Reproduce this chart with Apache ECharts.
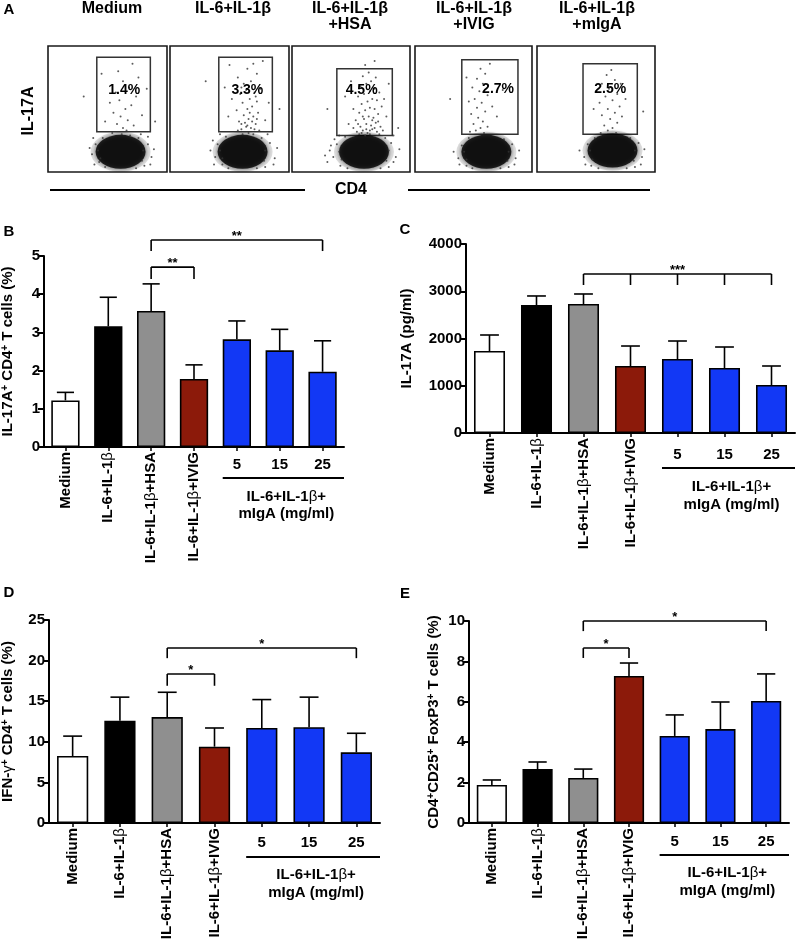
<!DOCTYPE html>
<html><head><meta charset="utf-8">
<script src="https://cdn.jsdelivr.net/npm/echarts/dist/echarts.min.js"></script>
<style>html,body{margin:0;padding:0;background:#fff}#c{width:797px;height:948px}</style>
</head><body><div id="c"></div>
<script>
// ---------------- DATA ----------------
const categories = ['Medium', 'IL-6+IL-1β', 'IL-6+IL-1β+HSA', 'IL-6+IL-1β+IVIG', '5', '15', '25'];
const groupTitle = ['IL-6+IL-1β+', 'mIgA (mg/ml)'];

// Panel B: IL-17A+ CD4+ T cells (%)
const bTicks = [0, 1, 2, 3, 4, 5];
const bMean  = [1.22, 3.16, 3.56, 1.78, 2.82, 2.53, 1.97];
const bUpper = [1.43, 3.92, 4.27, 2.15, 3.30, 3.08, 2.78];
const bBrackets = [
  {from: 2, to: 6, level: 5.42, drop: 5.13, ticks: [2, 6], label: '**'},
  {from: 2, to: 3, level: 4.71, drop: 4.40, ticks: [2, 3], label: '**'}
];

// Panel C: IL-17A (pg/ml)
const cTicks = [0, 1000, 2000, 3000, 4000];
const cMean  = [1735, 2709, 2730, 1418, 1566, 1376, 1016];
const cUpper = [2074, 2900, 2942, 1841, 1947, 1820, 1418];
const cBrackets = [
  {from: 2, to: 6, level: 3365, drop: 3132, ticks: [2, 3, 4, 5, 6], label: '***'}
];

// Panel D: IFN-γ+ CD4+ T cells (%)
const dTicks = [0, 5, 10, 15, 20, 25];
const dMean  = [8.25, 12.6, 13.05, 9.4, 11.7, 11.8, 8.7];
const dUpper = [10.7, 15.5, 16.1, 11.7, 15.2, 15.5, 11.05];
const dBrackets = [
  {from: 2, to: 6, level: 21.55, drop: 20.3, ticks: [2, 6], label: '*'},
  {from: 2, to: 3, level: 18.35, drop: 16.9, ticks: [2, 3], label: '*'}
];

// Panel E: CD4+CD25+ FoxP3+ T cells (%)
const eTicks = [0, 2, 4, 6, 8, 10];
const eMean  = [1.88, 2.67, 2.23, 7.28, 4.31, 4.65, 6.04];
const eUpper = [2.13, 3.02, 2.67, 7.92, 5.35, 5.99, 7.38];
const eBrackets = [
  {from: 2, to: 6, level: 10.0, drop: 9.5, ticks: [2, 6], label: '*'},
  {from: 2, to: 3, level: 8.66, drop: 8.17, ticks: [2, 3], label: '*'}
];

// Panel A: flow cytometry (IL-17A vs CD4), axes 0-100 in each plot
const flowTitles = [['Medium'], ['IL-6+IL-1β'], ['IL-6+IL-1β', '+HSA'], ['IL-6+IL-1β', '+IVIG'], ['IL-6+IL-1β', '+mIgA']];
const flowPct = ['1.4%', '3.3%', '4.5%', '2.7%', '2.5%'];
const flowGates = [[41, 32, 86, 91], [41, 32, 86, 91], [38, 29, 85, 82], [40, 30, 88, 89], [39, 30, 85, 86]];
const flowBlob = [[61, 16], [61, 16], [61, 16], [61, 16], [64, 17]];
const flowDots = [
  [[63,35],[58,38],[67,41],[61,44],[72,37],[55,47],[65,50],[70,53],[60,57],[74,60],[57,63],[68,67],[63,72],[76,75],[59,80],[71,86],[52,55],[79,45],[66,33],[48,40],[83,66],[45,78],[62,30],[69,29],[54,31],[30,60],[90,40],[78,30],
   [40,22],[37,14],[43,8],[84,22],[87,12],[81,5],[46,27],[76,27],[35,19],[89,18],[42,17],[80,17],[44,11],[79,9],[39,6],[86,6],[48,4],[74,3],[38,27],[84,28]],
  [[60,34],[64,36],[68,35],[72,38],[58,40],[66,42],[62,45],[70,44],[74,47],[56,49],[65,50],[69,52],[61,55],[73,56],[67,58],[59,62],[64,65],[71,63],[76,66],[62,70],[68,72],[57,75],[73,78],[65,82],[70,86],[78,88],[52,58],[49,44],[80,41],[83,55],[46,67],[66,31],[70,30],[61,30],[75,33],[63,39],[67,47],[72,60],[60,67],[50,85],[30,72],[92,50],
   [57,33],[71,34],[65,37],[69,40],[60,38],[73,42],
   [40,22],[38,12],[44,6],[84,23],[88,11],[80,4],[47,28],[77,27],[34,17],[90,19],[42,30],[82,30],[42,17],[80,17],[44,11],[79,9],[37,6],[87,6],[49,3],[73,3],[36,25]],
  [[55,32],[60,33],[64,31],[68,34],[72,32],[58,36],[63,38],[67,37],[71,39],[75,36],[54,41],[61,42],[65,44],[69,43],[73,46],[57,47],[62,49],[66,51],[70,50],[76,52],[59,54],[64,56],[68,58],[72,57],[56,60],[61,62],[66,64],[70,66],[74,63],[58,68],[63,70],[67,72],[71,75],[60,76],[65,79],[52,50],[48,38],[45,60],[80,44],[82,70],[78,58],[50,72],[62,85],[70,88],[30,50],[90,35],[66,30],[62,29],[74,30],[57,30],
   [59,31],[66,33],[70,35],[63,34],[56,38],[73,40],[68,41],[60,44],[77,33],[52,35],
   [38,22],[35,12],[41,5],[84,23],[88,12],[82,4],[45,28],[79,27],[32,17],[91,18],[40,29],[86,29],[30,8],[40,16],[82,17],[42,10],[80,9],[36,26],[33,21],[28,13],[47,3],[75,3],[86,8]],
  [[52,33],[56,35],[50,38],[58,40],[54,43],[48,46],[60,48],[53,51],[57,55],[51,58],[62,61],[55,64],[49,67],[58,70],[53,74],[60,78],[56,82],[64,86],[46,56],[66,52],[70,44],[62,36],[47,32],[59,31],[44,75],[75,65],[30,58],
   [40,21],[37,11],[44,5],[83,22],[86,11],[80,4],[46,27],[76,26],[33,16],[89,17],[42,16],[80,16],[44,10],[79,9],[38,6],[85,6],[49,3],[73,3]],
  [[60,33],[64,35],[57,37],[68,39],[62,42],[55,45],[66,47],[60,50],[70,52],[53,55],[64,57],[58,60],[68,62],[61,66],[55,70],[66,73],[59,77],[63,81],[50,64],[72,44],[75,58],[67,31],[54,31],[48,50],[71,70],[90,48],
   [43,22],[40,12],[46,5],[86,23],[89,12],[83,4],[49,27],[79,27],[36,17],[91,18],[45,17],[83,17],[47,10],[82,9],[41,6],[88,6],[52,3],[76,3]]
];

// ---------------- LAYOUT / STYLE ----------------
const FONT = '"Liberation Sans", Arial, Helvetica, sans-serif';
const barColors = ['#ffffff', '#000000', '#8f8f8f', '#8c1a0a', '#1238f5', '#1238f5', '#1238f5'];
const flowBoxes = [[48,46,119,126],[170,46,119,126],[292,46,118,126],[415,46,117,126],[537,46,118,126]];
const flowTitleX = [112, 233, 350, 474, 597];
const flowPctPos = [[64,65],[65,65],[59,65],[71,66],[62,66]];

const supRich = {
  t: {fontSize: 15, fontWeight: 'bold', fontFamily: FONT, color: '#000'},
  s: {fontSize: 10, fontWeight: 'bold', fontFamily: FONT, color: '#000', verticalAlign: 'top', padding: [0, 0, 6, 0]},
  g: {fontSize: 15, fontWeight: 'normal', fontFamily: FONT, color: '#000'}
};

const panels = [
  {letter: 'B', lx: 9, ly: 232, rect: {left: 44, top: 256, width: 300, height: 191}, ticks: bTicks, mean: bMean, upper: bUpper, brackets: bBrackets,
   name: '{t|IL-17A}{s|+}{t| CD4}{s|+}{t| T cells (%)}', nameGap: 28, dy: [18, 31, 50, 67]},
  {letter: 'C', lx: 405, ly: 230, rect: {left: 466, top: 244, width: 329, height: 189}, ticks: cTicks, mean: cMean, upper: cUpper, brackets: cBrackets,
   name: '{t|IL-17A (pg/ml)}', nameGap: 52, dy: [22, 35, 54, 72]},
  {letter: 'D', lx: 9, ly: 593, rect: {left: 49, top: 620, width: 331, height: 203}, ticks: dTicks, mean: dMean, upper: dUpper, brackets: dBrackets,
   name: '{t|IFN-}{g|γ}{s|+}{t| CD4}{s|+}{t| T cells (%)}', nameGap: 33, dy: [20, 34, 52, 70]},
  {letter: 'E', lx: 405, ly: 594, rect: {left: 469, top: 621, width: 320, height: 202}, ticks: eTicks, mean: eMean, upper: eUpper, brackets: eBrackets,
   name: '{t|CD4}{s|+}{t|CD25}{s|+}{t| FoxP3}{s|+}{t| T cells (%)}', nameGap: 27, dy: [19, 32, 50, 68]}
];

// ---------------- BUILD ----------------
const grids = [], xAxes = [], yAxes = [], series = [];
const flowSeriesIdx = [];

flowBoxes.forEach((b, i) => {
  grids.push({left: b[0], top: b[1], width: b[2], height: b[3], show: true, borderColor: '#1a1a1a', borderWidth: 1.6,
              backgroundColor: '#fff', containLabel: false, outerBoundsMode: 'none'});
  xAxes.push({gridIndex: i, type: 'value', min: 0, max: 100, show: false});
  yAxes.push({gridIndex: i, type: 'value', min: 0, max: 100, show: false});
  const blobLayers = [
    {size: [60, 40], color: 'rgba(0,0,0,0.16)', blur: 0, shadow: 'rgba(0,0,0,0)'},
    {size: [50, 34], color: '#000', blur: 4, shadow: 'rgba(0,0,0,0.8)'}
  ];
  blobLayers.forEach(L => series.push({
    type: 'scatter', xAxisIndex: i, yAxisIndex: i, data: [flowBlob[i]], symbol: 'circle', symbolSize: L.size,
    itemStyle: {color: L.color, shadowBlur: L.blur, shadowColor: L.shadow}, silent: true, z: 2
  }));
  const g = flowGates[i];
  flowSeriesIdx.push(series.length);
  series.push({
    type: 'scatter', xAxisIndex: i, yAxisIndex: i, data: flowDots[i], symbolSize: 2, itemStyle: {color: '#333'}, silent: true, z: 3,
    markArea: {silent: true, itemStyle: {color: 'rgba(0,0,0,0)', borderColor: '#333', borderWidth: 1.5},
               data: [[{coord: [g[0], g[1]]}, {coord: [g[2], g[3]]}]]}
  });
});

const barSeriesIdx = [];
panels.forEach((p, k) => {
  const gi = 5 + k;
  grids.push(Object.assign({containLabel: false, outerBoundsMode: 'none'}, p.rect));
  xAxes.push({
    gridIndex: gi, type: 'category', data: categories,
    axisLine: {show: true, onZero: false, lineStyle: {color: '#000', width: 2}},
    axisTick: {show: true, alignWithLabel: true, length: 4, lineStyle: {color: '#000', width: 1.5}},
    axisLabel: {interval: 0, rotate: 90, margin: 5, fontSize: 15, fontWeight: 'bold', color: '#000', fontFamily: FONT,
                formatter: (v, i) => i >= 4 ? '' : v.replace(/β/g, '{g|β}'), rich: {g: supRich.g}},
    splitLine: {show: false}
  });
  yAxes.push({
    gridIndex: gi, type: 'value', min: p.ticks[0], max: p.ticks[p.ticks.length - 1], interval: p.ticks[1] - p.ticks[0],
    axisLine: {show: true, lineStyle: {color: '#000', width: 2}},
    axisTick: {show: true, length: 6, lineStyle: {color: '#000', width: 2}},
    axisLabel: {color: '#000', fontSize: 15, fontWeight: 'bold', fontFamily: FONT, margin: 4, formatter: v => String(v)},
    splitLine: {show: false},
    name: p.name, nameLocation: 'middle', nameGap: p.nameGap, nameRotate: 90,
    nameTextStyle: {fontSize: 15, fontWeight: 'bold', fontFamily: FONT, color: '#000', rich: supRich}
  });
  barSeriesIdx.push(series.length);
  series.push({
    type: 'bar', xAxisIndex: gi, yAxisIndex: gi, barWidth: '66%', silent: true, z: 2,
    data: p.mean.map((v, i) => ({value: v, itemStyle: {color: barColors[i], borderColor: '#000', borderWidth: 1.6}}))
  });
  series.push({
    type: 'custom', xAxisIndex: gi, yAxisIndex: gi, silent: true, z: 3,
    data: p.mean.map((v, i) => [i, v, p.upper[i]]), encode: {x: 0, y: 1},
    renderItem: (params, api) => {
      const i = api.value(0), m = api.value(1), u = api.value(2);
      const pm = api.coord([i, m]), pu = api.coord([i, u]);
      const hw = api.size([1, 0])[0] * 0.2;
      return {type: 'group', children: [
        {type: 'line', shape: {x1: pm[0], y1: pm[1], x2: pu[0], y2: pu[1]}, style: {stroke: '#000', lineWidth: 1.6}},
        {type: 'line', shape: {x1: pu[0] - hw, y1: pu[1], x2: pu[0] + hw, y2: pu[1]}, style: {stroke: '#000', lineWidth: 1.6}}
      ]};
    }
  });
});

const option = {
  backgroundColor: '#fff', animation: false,
  grid: grids, xAxis: xAxes, yAxis: yAxes, series: series
};

const chart = echarts.init(document.getElementById('c'), null, {renderer: 'canvas', width: 797, height: 948});
chart.setOption(option);

// ---------------- ANNOTATIONS ----------------
function txt(x, y, text, size, weight, opts) {
  return Object.assign({type: 'text', x: x, y: y, silent: true, z: 100, style: {
    text: text, fill: '#000', font: (weight || 'bold') + ' ' + size + 'px ' + FONT,
    textAlign: 'center', textVerticalAlign: 'middle', align: 'center', verticalAlign: 'middle'
  }}, opts || {});
}
function seg(x1, y1, x2, y2, w) {
  return {type: 'line', silent: true, z: 100, shape: {x1: x1, y1: y1, x2: x2, y2: y2}, style: {stroke: '#000', lineWidth: w || 1.6}};
}

const gfx = [];
gfx.push(txt(9, 10, 'A', 15));
flowTitles.forEach((lines, i) => {
  lines.forEach((l, j) => gfx.push(txt(flowTitleX[i], 9 + j * 16, l, 16)));
});
flowPct.forEach((t, i) => {
  const q = chart.convertToPixel({seriesIndex: flowSeriesIdx[i]}, flowPctPos[i]);
  gfx.push(txt(q[0], q[1], t, 14));
});
gfx.push(txt(29, 111, 'IL-17A', 16, 'bold', {rotation: Math.PI / 2}));
gfx.push(seg(50, 190, 305, 190, 2));
gfx.push(seg(408, 190, 650, 190, 2));
gfx.push(txt(351, 190, 'CD4', 16));

panels.forEach((p, k) => {
  const si = barSeriesIdx[k];
  const px = (i, v) => chart.convertToPixel({seriesIndex: si}, [i, v]);
  gfx.push(txt(p.lx, p.ly, p.letter, 15));
  const band = px(1, 0)[0] - px(0, 0)[0];
  const y0 = px(0, 0)[1];
  p.brackets.forEach(b => {
    const a = px(b.from, b.level), c = px(b.to, b.level);
    gfx.push(seg(a[0], a[1], c[0], c[1], 1.6));
    b.ticks.forEach(t => {
      const top = px(t, b.level), bot = px(t, b.drop);
      gfx.push(seg(top[0], top[1], bot[0], bot[1], 1.6));
    });
    gfx.push(txt((a[0] + c[0]) / 2, a[1] - 4, b.label, 13));
  });
  [4, 5, 6].forEach(i => gfx.push(txt(px(i, 0)[0], y0 + p.dy[0], categories[i], 15)));
  const l = px(4, 0)[0] - band * 0.33, r = px(6, 0)[0] + band * 0.5;
  gfx.push(seg(l, y0 + p.dy[1], r, y0 + p.dy[1], 2));
  const cx = (l + r) / 2 + 3;
  gfx.push({type: 'text', x: cx, y: y0 + p.dy[2], silent: true, z: 100, style: {
    text: '{t|IL-6+IL-1}{g|β}{t|+}', rich: {t: {font: 'bold 15px ' + FONT, fill: '#000'}, g: {font: 'normal 15px ' + FONT, fill: '#000'}},
    textAlign: 'center', textVerticalAlign: 'middle', align: 'center', verticalAlign: 'middle'}});
  gfx.push(txt(cx, y0 + p.dy[3], groupTitle[1], 15));
});

chart.setOption({graphic: {elements: gfx}});
</script>
</body></html>
